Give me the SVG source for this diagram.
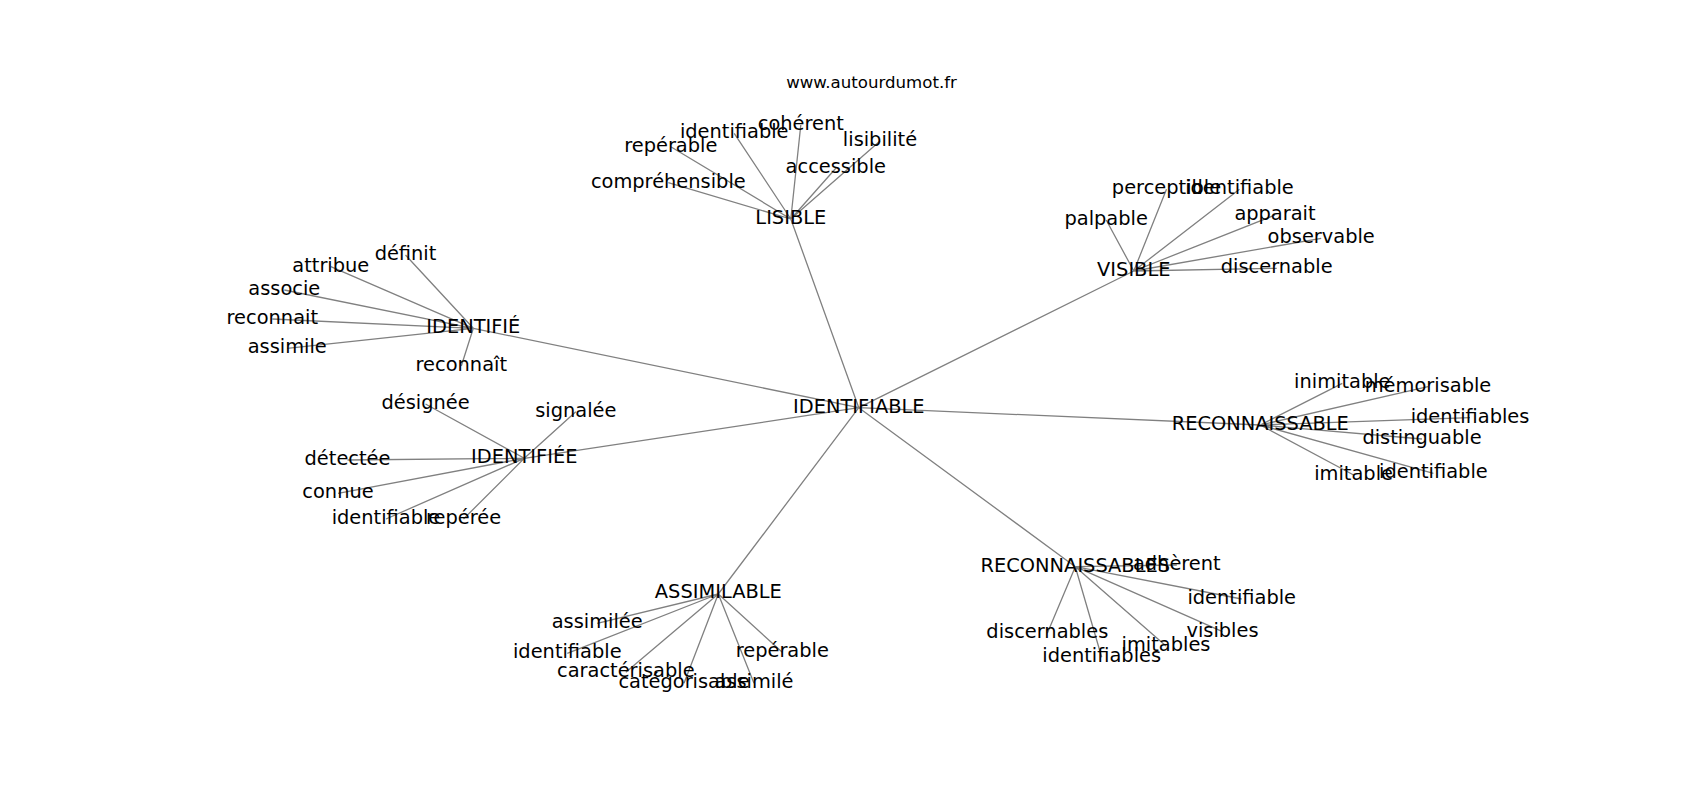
<svg xmlns="http://www.w3.org/2000/svg" width="1700" height="800" viewBox="0 0 1700 800">
<style>
.e{stroke:#808080;stroke-width:1.3;fill:none}
text{font-family:"DejaVu Sans","Liberation Sans",sans-serif;font-size:19.4px;fill:#000;text-anchor:middle}
.t{font-size:16.6px}
</style>
<rect width="1700" height="800" fill="#fff"/>
<g id="connectors">
<path class="e" d="M858.8 407.7L790.8 219M858.8 407.7L473.3 328.3M858.8 407.7L524.3 458.3M858.8 407.7L718.3 594M858.8 407.7L1075.3 566.7M858.8 407.7L1260.3 425M858.8 407.7L1133.8 271"/>
<path class="e" d="M790.8 219L800.8 125M790.8 219L734.2 133.3M790.8 219L670.8 146.7M790.8 219L880 141M790.8 219L835.8 168.3M790.8 219L668.3 182.7"/>
<path class="e" d="M473.3 328.3L405.5 255M473.3 328.3L330.8 266.7M473.3 328.3L284.3 290M473.3 328.3L272.3 319M473.3 328.3L287.2 348.3M473.3 328.3L461.3 366"/>
<path class="e" d="M1133.8 271L1166.5 189.3M1133.8 271L1239.5 189.3M1133.8 271L1106.2 220M1133.8 271L1275 215M1133.8 271L1321.2 238.3M1133.8 271L1276.7 268.3"/>
<path class="e" d="M1260.3 425L1342.3 383.3M1260.3 425L1428 386.7M1260.3 425L1470 417.7M1260.3 425L1422 439M1260.3 425L1353.6 475M1260.3 425L1433.4 473.3"/>
<path class="e" d="M524.3 458.3L425.5 404M524.3 458.3L575.8 411.7M524.3 458.3L347.5 460M524.3 458.3L338 493.3M524.3 458.3L386 519M524.3 458.3L463.5 519"/>
<path class="e" d="M718.3 594L597.2 623.3M718.3 594L567.3 653.3M718.3 594L782.3 652.3M718.3 594L625.8 672.3M718.3 594L684 683.3M718.3 594L754 683.3"/>
<path class="e" d="M1075.3 566.7L1176.8 565M1075.3 566.7L1241.7 599M1075.3 566.7L1222.5 631.7M1075.3 566.7L1047.3 633.3M1075.3 566.7L1166 646M1075.3 566.7L1101.7 657.3"/>
</g>
<text class="t" x="871.5" y="88">www.autourdumot.fr</text>
<g id="n-identifiable"><text x="858.8" y="412.7">IDENTIFIABLE</text></g>
<g id="n-lisible"><text x="790.8" y="224">LISIBLE</text></g>
<g id="n-lisible-coherent"><text x="800.8" y="130">cohérent</text></g>
<g id="n-lisible-identifiable"><text x="734.2" y="138.3">identifiable</text></g>
<g id="n-lisible-reperable"><text x="670.8" y="151.7">repérable</text></g>
<g id="n-lisible-lisibilite"><text x="880" y="146">lisibilité</text></g>
<g id="n-lisible-accessible"><text x="835.8" y="173.3">accessible</text></g>
<g id="n-lisible-comprehensible"><text x="668.3" y="187.7">compréhensible</text></g>
<g id="n-identifie"><text x="473.3" y="333.3">IDENTIFIÉ</text></g>
<g id="n-identifie-definit"><text x="405.5" y="260">définit</text></g>
<g id="n-identifie-attribue"><text x="330.8" y="271.7">attribue</text></g>
<g id="n-identifie-associe"><text x="284.3" y="295">associe</text></g>
<g id="n-identifie-reconnait"><text x="272.3" y="324">reconnait</text></g>
<g id="n-identifie-assimile"><text x="287.2" y="353.3">assimile</text></g>
<g id="n-identifie-reconnait2"><text x="461.3" y="371">reconnaît</text></g>
<g id="n-visible"><text x="1133.8" y="276">VISIBLE</text></g>
<g id="n-visible-perceptible"><text x="1166.5" y="194.3">perceptible</text></g>
<g id="n-visible-identifiable"><text x="1239.5" y="194.3">identifiable</text></g>
<g id="n-visible-palpable"><text x="1106.2" y="225">palpable</text></g>
<g id="n-visible-apparait"><text x="1275" y="220">apparait</text></g>
<g id="n-visible-observable"><text x="1321.2" y="243.3">observable</text></g>
<g id="n-visible-discernable"><text x="1276.7" y="273.3">discernable</text></g>
<g id="n-reconnaissable"><text x="1260.3" y="430">RECONNAISSABLE</text></g>
<g id="n-reco-inimitable"><text x="1342.3" y="388.3">inimitable</text></g>
<g id="n-reco-memorisable"><text x="1428" y="391.7">mémorisable</text></g>
<g id="n-reco-identifiables"><text x="1470" y="422.7">identifiables</text></g>
<g id="n-reco-distinguable"><text x="1422" y="444">distinguable</text></g>
<g id="n-reco-imitable"><text x="1353.6" y="480">imitable</text></g>
<g id="n-reco-identifiable"><text x="1433.4" y="478.3">identifiable</text></g>
<g id="n-identifiee"><text x="524.3" y="463.3">IDENTIFIÉE</text></g>
<g id="n-identifiee-designee"><text x="425.5" y="409">désignée</text></g>
<g id="n-identifiee-signalee"><text x="575.8" y="416.7">signalée</text></g>
<g id="n-identifiee-detectee"><text x="347.5" y="465">détectée</text></g>
<g id="n-identifiee-connue"><text x="338" y="498.3">connue</text></g>
<g id="n-identifiee-identifiable"><text x="386" y="524">identifiable</text></g>
<g id="n-identifiee-reperee"><text x="463.5" y="524">repérée</text></g>
<g id="n-assimilable"><text x="718.3" y="598.3">ASSIMILABLE</text></g>
<g id="n-assim-assimilee"><text x="597.2" y="628.3">assimilée</text></g>
<g id="n-assim-identifiable"><text x="567.3" y="658.3">identifiable</text></g>
<g id="n-assim-reperable"><text x="782.3" y="657.3">repérable</text></g>
<g id="n-assim-caracterisable"><text x="625.8" y="677.3">caractérisable</text></g>
<g id="n-assim-categorisable"><text x="684" y="688.3">catégorisable</text></g>
<g id="n-assim-assimile"><text x="754" y="688.3">assimilé</text></g>
<g id="n-reconnaissables"><text x="1075.3" y="571.7">RECONNAISSABLES</text></g>
<g id="n-recos-adherent"><text x="1176.8" y="570">adhèrent</text></g>
<g id="n-recos-identifiable"><text x="1241.7" y="604">identifiable</text></g>
<g id="n-recos-visibles"><text x="1222.5" y="636.7">visibles</text></g>
<g id="n-recos-discernables"><text x="1047.3" y="638.3">discernables</text></g>
<g id="n-recos-imitables"><text x="1166" y="651">imitables</text></g>
<g id="n-recos-identifiables"><text x="1101.7" y="662.3">identifiables</text></g>
</svg>
